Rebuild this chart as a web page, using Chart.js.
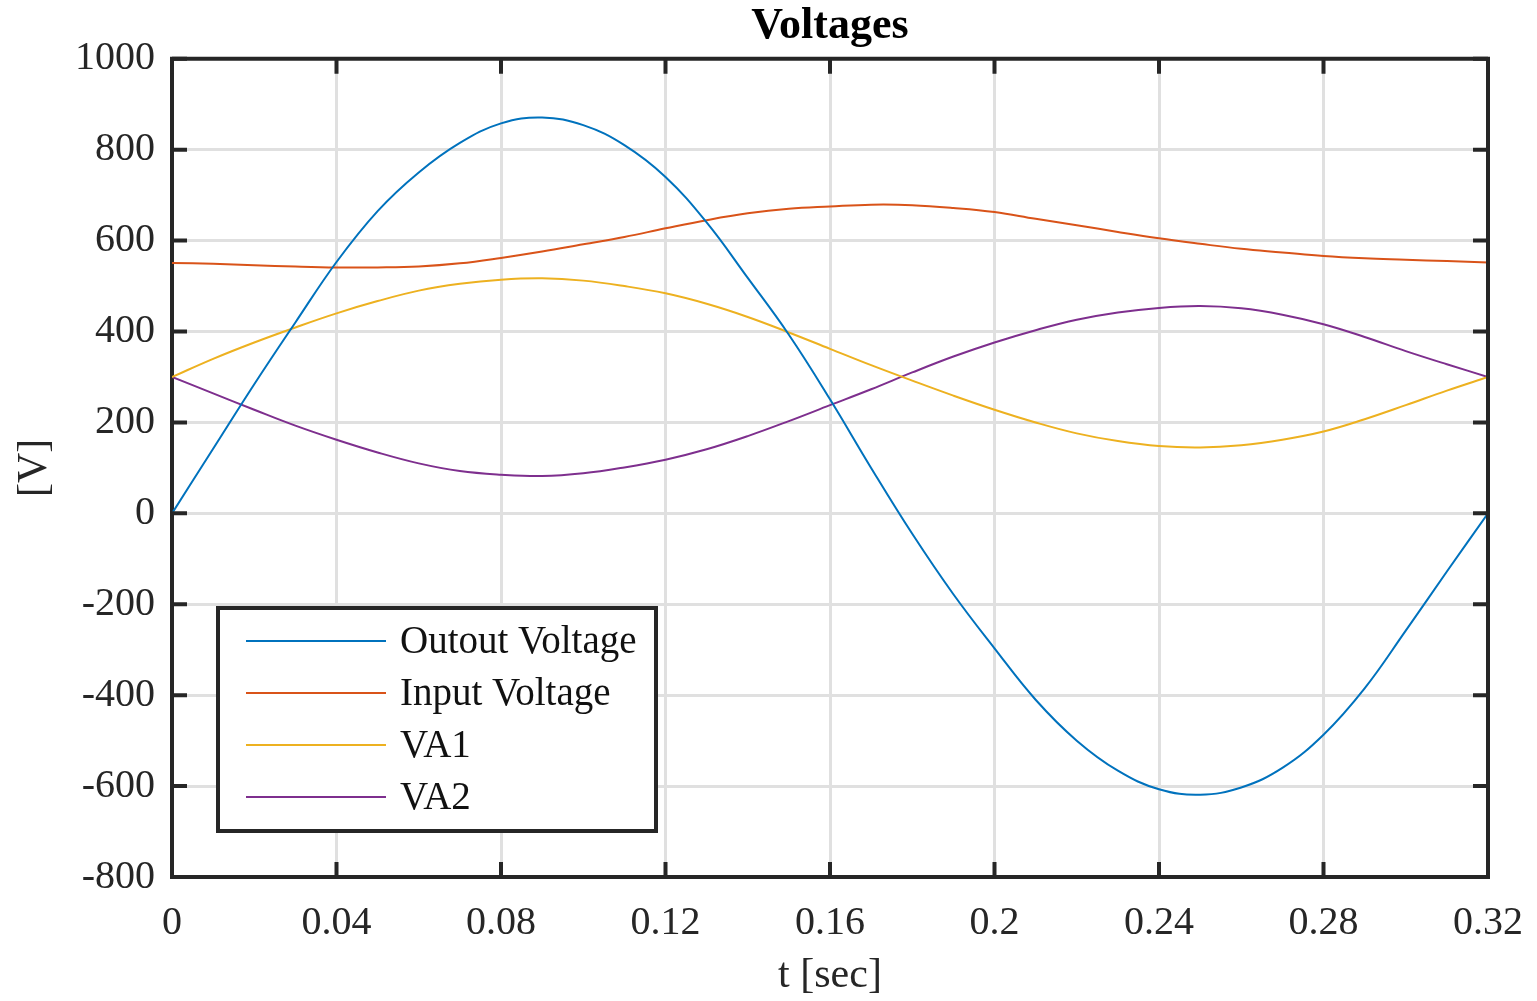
<!DOCTYPE html>
<html><head><meta charset="utf-8">
<script src="https://cdn.jsdelivr.net/npm/chart.js@4.4.1/dist/chart.umd.min.js"></script>
<style>html,body{margin:0;padding:0;background:#fff;overflow:hidden}#wrap{width:1537px;height:1001px;position:relative}</style>
</head><body><div id="wrap"><canvas id="c" width="1537" height="1001"></canvas></div>
<script>
const timeSec = [0,0.01,0.02,0.03,0.04,0.05,0.06,0.07,0.08,0.09,0.10,0.11,0.12,0.13,0.14,0.15,0.16,0.17,0.18,0.19,0.20,0.21,0.22,0.23,0.24,0.25,0.26,0.27,0.28,0.29,0.30,0.31,0.32];
const outputVoltage = [0,142,284,420,553,665,750,815,858,871,854,810,740,640,518,393,251,100,-45,-178,-297,-410,-500,-566,-607,-619,-603,-560,-487,-385,-258,-128,0];
const inputVoltage = [551,549,546,543,541,541,543,550,562,576,592,608,627,645,660,670,675,679,678,672,663,648,634,619,605,593,582,574,566,561,558,555,552];
const va1Voltage = [300,340,376,409,440,467,490,505,514,517,512,500,484,461,432,398,362,326,292,259,228,200,176,159,148,145,150,162,180,207,238,270,300];
const va2Voltage = [300,264,228,193,162,134,110,93,85,82,88,101,118,141,170,203,238,273,310,345,376,403,426,442,452,456,451,437,416,388,357,328,300];
const seriesNames = ['Outout Voltage','Input Voltage','VA1','VA2'];
const seriesColors = ['#0072BD','#D95319','#EDB120','#7E2F8E'];
const xTickLabels = ['0','0.04','0.08','0.12','0.16','0.2','0.24','0.28','0.32'];
const yTickLabels = ['-800','-600','-400','-200','0','200','400','600','800','1000'];

const FONT = '"Liberation Serif","Times New Roman",serif';
const DARK = '#262626';

function pts(vals){ return timeSec.map((t,i)=>({x:t,y:vals[i]})); }
const allSeries = [outputVoltage,inputVoltage,va1Voltage,va2Voltage];

const frameTicks = {
  id:'frameTicks',
  afterDraw(chart){
    const {ctx, chartArea:a, scales:{x,y}} = chart;
    ctx.save();
    ctx.strokeStyle = DARK; ctx.lineWidth = 4; ctx.lineCap='butt';
    ctx.beginPath();
    ctx.moveTo(a.left-2, a.top); ctx.lineTo(a.right, a.top); ctx.lineTo(a.right, a.bottom+2);
    ctx.stroke();
    const L = 15;
    ctx.beginPath();
    x.ticks.forEach(t=>{
      const px = x.getPixelForValue(t.value);
      ctx.moveTo(px, a.bottom); ctx.lineTo(px, a.bottom-L);
      ctx.moveTo(px, a.top); ctx.lineTo(px, a.top+L);
    });
    y.ticks.forEach(t=>{
      const py = y.getPixelForValue(t.value);
      ctx.moveTo(a.left, py); ctx.lineTo(a.left+L, py);
      ctx.moveTo(a.right, py); ctx.lineTo(a.right-L, py);
    });
    ctx.stroke();
    // legend box
    const bx=218, by=608, bw=438, bh=223;
    ctx.fillStyle='#fff';
    ctx.fillRect(bx,by,bw,bh);
    ctx.lineWidth=4; ctx.strokeStyle=DARK;
    ctx.strokeRect(bx,by,bw,bh);
    ctx.font = '39px ' + FONT;
    ctx.textBaseline='middle'; ctx.textAlign='left';
    chart.data.datasets.forEach((ds,i)=>{
      const ly = 641 + i*52;
      ctx.strokeStyle = ds.borderColor; ctx.lineWidth = 2;
      ctx.beginPath(); ctx.moveTo(246, ly); ctx.lineTo(386, ly); ctx.stroke();
      ctx.fillStyle = '#111';
      ctx.fillText(ds.label, 400, ly+2);
    });
    ctx.restore();
  }
};

new Chart(document.getElementById('c'), {
  type:'line',
  data:{ datasets: allSeries.map((v,i)=>({
    label: seriesNames[i], data: pts(v), borderColor: seriesColors[i], backgroundColor: seriesColors[i],
    borderWidth: 2, pointRadius: 0, tension: 0.4, fill:false
  }))},
  options:{
    responsive:false, animation:false, devicePixelRatio:1,
    layout:{padding:{left:0,right:49,top:0,bottom:0}},
    plugins:{
      legend:{display:false},
      tooltip:{enabled:false},
      title:{display:true, text:'Voltages', fullSize:false, color:'#000',
        font:{family:FONT, size:44, weight:'bold', lineHeight:1.2}, padding:{top:0,bottom:6}}
    },
    scales:{
      x:{type:'linear', min:0, max:0.32,
        afterFit(s){ s.height = 124; s.paddingLeft = 0; s.paddingRight = 0; },
        ticks:{stepSize:0.04, color:DARK, font:{family:FONT,size:40}, padding:22, maxRotation:0,
          callback:(v,i)=>xTickLabels[i]},
        grid:{color:'#e0e0e0', lineWidth:3, drawTicks:false},
        border:{color:DARK, width:4},
        title:{display:true, text:'t [sec]', color:DARK, font:{family:FONT,size:42,lineHeight:1.2}, padding:{top:0,bottom:0}}
      },
      y:{type:'linear', min:-800, max:1000,
        afterFit(s){ s.width = 172; },
        ticks:{stepSize:200, color:DARK, font:{family:FONT,size:40}, padding:17,
          callback:(v,i)=>yTickLabels[i]},
        grid:{color:'#e0e0e0', lineWidth:3, drawTicks:false},
        border:{color:DARK, width:4},
        title:{display:true, text:'[V]', color:DARK, font:{family:FONT,size:42,lineHeight:1.2}, padding:{top:10,bottom:0}}
      }
    }
  },
  plugins:[frameTicks]
});
</script></body></html>
